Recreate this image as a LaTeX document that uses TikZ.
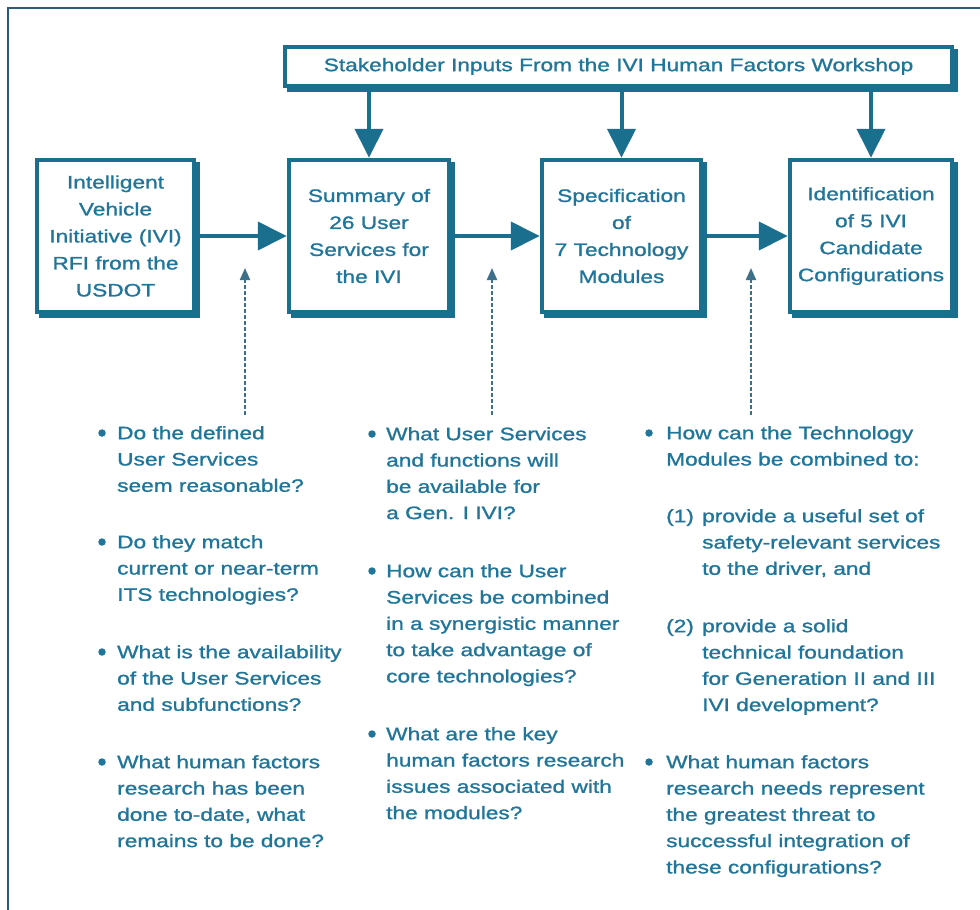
\documentclass[tikz,border=0pt]{standalone}
\usepackage{fontspec}
\setmainfont[FakeStretch=1.26,FakeBold=1.2]{Liberation Sans}
\usetikzlibrary{arrows.meta,shadows}
\definecolor{ivi}{HTML}{1A6F8E}
\definecolor{ivitext}{HTML}{20769A}
\definecolor{framec}{HTML}{2B5B7C}
\definecolor{dashc}{HTML}{3F7089}
\begin{document}
\begin{tikzpicture}[x=1pt,y=-1pt,
  box/.style={draw=ivi, line width=4.5pt, fill=white, inner sep=0pt, align=center,
    text=ivitext, font=\fontsize{18}{27}\selectfont,
    drop shadow={shadow xshift=4pt, shadow yshift=-4pt, fill=ivi, draw=ivi, line width=4.5pt, opacity=1}},
  bigarrow/.style={draw=ivi, line width=4pt, -{Triangle[length=29pt,width=28pt]}},
  dasharrow/.style={draw=dashc, line width=2pt, dash pattern=on 4pt off 2pt, -{Triangle[length=12pt,width=10pt]}},
  framestyle/.style={draw=framec, line width=1.5pt},
  item/.style={anchor=north west, inner sep=0pt, align=left, text=ivitext, font=\fontsize{18}{26.3}\selectfont},
  bul/.style={circle, fill=ivitext, inner sep=0pt, minimum size=7.5pt}
]
\useasboundingbox (0,0) rectangle (980,910);
\fill[white] (0,0) rectangle (980,910);

% frame
\coordinate (fa) at (8,910);
\coordinate (fb) at (8,8);
\coordinate (fc) at (980,8);
\draw[framestyle] (fa) -- (fb) -- (fc);

% boxes
\node[box, minimum width=667pt, minimum height=39pt] (stk) at (618.5,66.5) {Stakeholder Inputs From the IVI Human Factors Workshop};
\node[box, minimum width=157pt, minimum height=152pt] (b1) at (115.5,236) {Intelligent\\Vehicle\\Initiative (IVI)\\RFI from the\\USDOT};
\node[box, minimum width=160pt, minimum height=152pt] (b2) at (369,236) {Summary of\\26 User\\Services for\\the IVI};
\node[box, minimum width=159pt, minimum height=152pt] (b3) at (621.5,236) {Specification\\of\\7 Technology\\Modules};
\node[box, minimum width=162pt, minimum height=152pt] (b4) at (871,236) {Identification\\of 5 IVI\\Candidate\\Configurations};

% arrows
\draw[bigarrow] (b1) -- (b2);
\draw[bigarrow] (b2) -- (b3);
\draw[bigarrow] (b3) -- (b4);
\draw[bigarrow] (b2.north |- stk.south) -- (b2.north);
\draw[bigarrow] (b3.north |- stk.south) -- (b3.north);
\draw[bigarrow] (b4.north |- stk.south) -- (b4.north);

% dashed arrows
\coordinate (d1s) at (245,415); \coordinate (d1e) at (245,268);
\coordinate (d2s) at (492,415); \coordinate (d2e) at (492,268);
\coordinate (d3s) at (751,415); \coordinate (d3e) at (751,268);
\draw[dasharrow] (d1s) -- (d1e);
\draw[dasharrow] (d2s) -- (d2e);
\draw[dasharrow] (d3s) -- (d3e);

% column 1
\node[bul] (c1b1) at (102,433) {};
\node[item] (c1t1) at (117,425) {\rule{0pt}{14pt}Do the defined\\User Services\\seem reasonable?};
\node[bul] (c1b2) at (102,542) {};
\node[item] (c1t2) at (117,534) {\rule{0pt}{14pt}Do they match\\current or near-term\\ITS technologies?};
\node[bul] (c1b3) at (102,652) {};
\node[item] (c1t3) at (117,644) {\rule{0pt}{14pt}What is the availability\\of the User Services\\and subfunctions?};
\node[bul] (c1b4) at (102,762) {};
\node[item] (c1t4) at (117,754) {\rule{0pt}{14pt}What human factors\\research has been\\done to-date, what\\remains to be done?};

% column 2
\node[bul] (c2b1) at (372,434) {};
\node[item] (c2t1) at (386,426) {\rule{0pt}{14pt}What User Services\\and functions will\\be available for\\a Gen. I IVI?};
\node[bul] (c2b2) at (372,571) {};
\node[item] (c2t2) at (386,563) {\rule{0pt}{14pt}How can the User\\Services be combined\\in a synergistic manner\\to take advantage of\\core technologies?};
\node[bul] (c2b3) at (372,734) {};
\node[item] (c2t3) at (386,726) {\rule{0pt}{14pt}What are the key\\human factors research\\issues associated with\\the modules?};

% column 3
\node[bul] (c3b1) at (649,433) {};
\node[item] (c3t1) at (666,425) {\rule{0pt}{14pt}How can the Technology\\Modules be combined to:};
\node[item] (c3l1) at (666,508) {\rule{0pt}{14pt}(1)};
\node[item] (c3t2) at (702,508) {\rule{0pt}{14pt}provide a useful set of\\safety-relevant services\\to the driver, and};
\node[item] (c3l2) at (666,618) {\rule{0pt}{14pt}(2)};
\node[item] (c3t3) at (702,618) {\rule{0pt}{14pt}provide a solid\\technical foundation\\for Generation II and III\\IVI development?};
\node[bul] (c3b2) at (649,762) {};
\node[item] (c3t4) at (666,754) {\rule{0pt}{14pt}What human factors\\research needs represent\\the greatest threat to\\successful integration of\\these configurations?};
\end{tikzpicture}
\end{document}
